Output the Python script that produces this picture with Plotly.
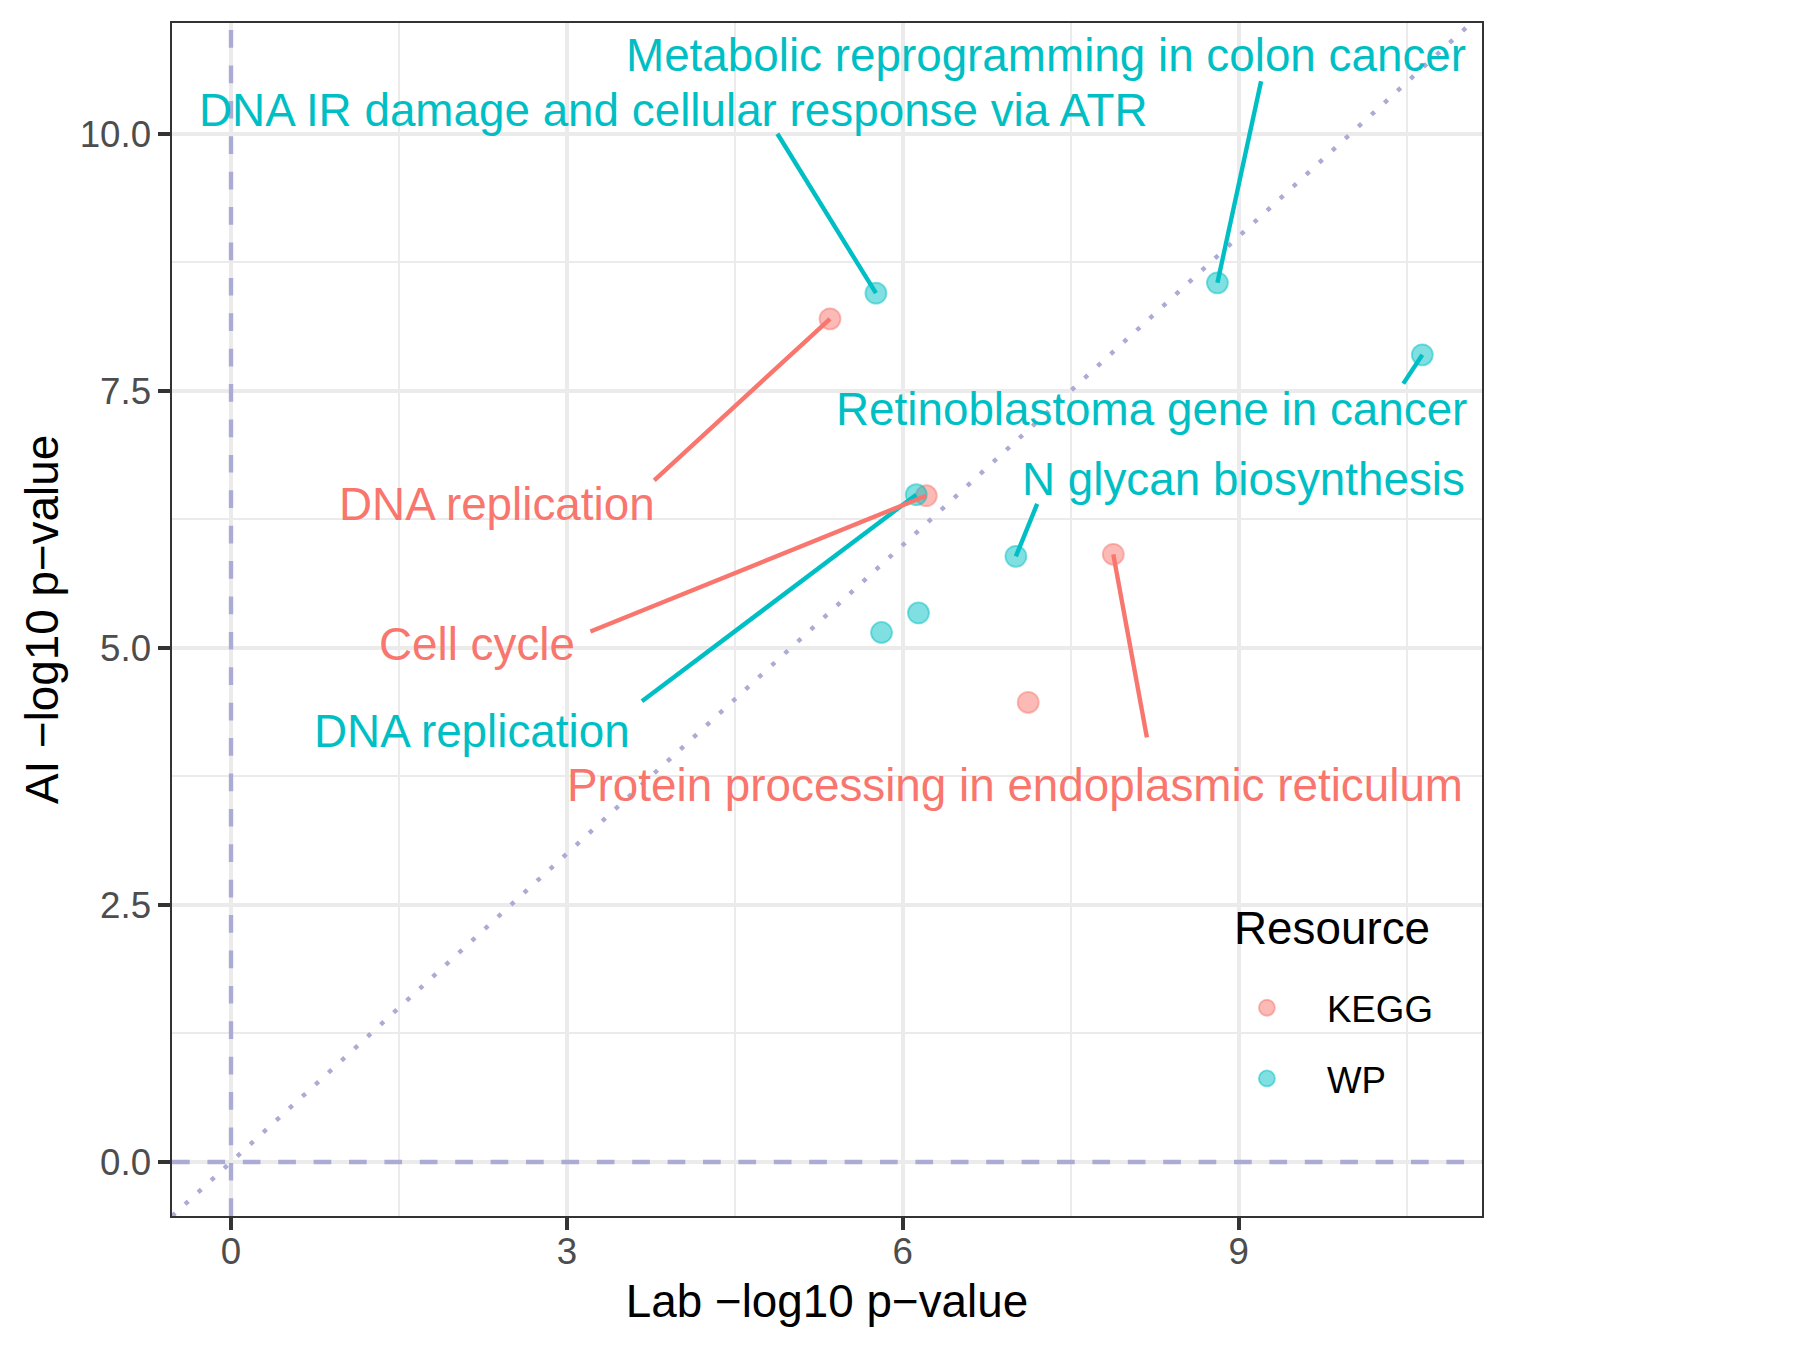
import plotly.graph_objects as go

# ---------------- data ----------------
resource = ["WP", "KEGG", "WP", "WP", "WP", "KEGG", "WP", "KEGG", "WP", "WP", "KEGG"]
pathway = [
    "DNA IR damage and cellular response via ATR",
    "DNA replication",
    "Metabolic reprogramming in colon cancer",
    "Retinoblastoma gene in cancer",
    "DNA replication",
    "Cell cycle",
    "N glycan biosynthesis",
    "Protein processing in endoplasmic reticulum",
    "",
    "",
    "",
]
lab_logp = [5.76, 5.35, 8.81, 10.64, 6.12, 6.21, 7.01, 7.88, 6.14, 5.81, 7.12]
ai_logp = [8.45, 8.20, 8.55, 7.85, 6.49, 6.48, 5.89, 5.91, 5.34, 5.15, 4.47]

resources = ["KEGG", "WP"]
x_ticks = [0, 3, 6, 9]
y_ticks = [0.0, 2.5, 5.0, 7.5, 10.0]
y_tick_text = ["0.0", "2.5", "5.0", "7.5", "10.0"]

# ---------------- layout / style ----------------
COLORS = {"KEGG": "#F8766D", "WP": "#00BFC4"}
FILL = {"KEGG": "rgba(248,118,109,0.5)", "WP": "rgba(0,191,196,0.5)"}
REF = "rgb(171,171,212)"
FONT = "Liberation Sans, Arial, Helvetica, sans-serif"
X_RANGE = [-0.527, 11.173]
Y_RANGE = [-0.525, 11.077]

# repelled label placement: (text centre x, y, segment start x, y), by point index
label_layout = {
    0: (3.95, 10.23, 4.88, 10.00),
    1: (2.38, 6.39, 3.78, 6.63),
    2: (7.28, 10.76, 9.20, 10.51),
    3: (8.22, 7.32, 10.47, 7.57),
    4: (2.15, 4.19, 3.67, 4.48),
    5: (2.20, 5.03, 3.21, 5.16),
    6: (9.04, 6.64, 7.20, 6.40),
    7: (7.00, 3.66, 8.18, 4.13),
}

fig = go.Figure()

# reference lines (drawn under the points)
fig.add_trace(go.Scatter(x=X_RANGE, y=[0, 0], mode="lines", showlegend=False, hoverinfo="skip",
                         line=dict(color=REF, width=4.4, dash="17.7px,17.7px")))
fig.add_trace(go.Scatter(x=[0, 0], y=Y_RANGE, mode="lines", showlegend=False, hoverinfo="skip",
                         line=dict(color=REF, width=4.4, dash="17.7px,17.7px")))
lo = min(X_RANGE[0], Y_RANGE[0])
hi = max(X_RANGE[1], Y_RANGE[1])
fig.add_trace(go.Scatter(x=[lo, hi], y=[lo, hi], mode="lines", showlegend=False, hoverinfo="skip",
                         line=dict(color=REF, width=4.4, dash="4.4px,13.3px")))

# points
for res in resources:
    idx = [i for i, r in enumerate(resource) if r == res]
    fig.add_trace(go.Scatter(
        x=[lab_logp[i] for i in idx],
        y=[ai_logp[i] for i in idx],
        mode="markers",
        name=res,
        legendgroup=res,
        text=[pathway[i] for i in idx],
        marker=dict(size=21, color=FILL[res], line=dict(color=FILL[res], width=1.8)),
    ))

# label segments (from label to the point)
for i, (tx, ty, sx, sy) in label_layout.items():
    fig.add_trace(go.Scatter(
        x=[sx, lab_logp[i]], y=[sy, ai_logp[i]], mode="lines", showlegend=False,
        hoverinfo="skip", line=dict(color=COLORS[resource[i]], width=4.4),
    ))

# labels
for i, (tx, ty, sx, sy) in label_layout.items():
    fig.add_annotation(x=tx, y=ty, xref="x", yref="y", text=pathway[i], showarrow=False,
                       xanchor="center", yanchor="middle",
                       font=dict(family=FONT, size=45.8, color=COLORS[resource[i]]))

# legend box and title (items come from the real legend)
fig.add_shape(type="rect", xref="paper", yref="paper", x0=0.790, x1=0.981, y0=0.0662, y1=0.2816,
              fillcolor="white", line=dict(width=0), layer="between")
fig.add_annotation(x=0.809, y=0.2414, xref="paper", yref="paper", text="Resource", showarrow=False,
                   xanchor="left", yanchor="middle",
                   font=dict(family=FONT, size=45.8, color="black"))

axis_common = dict(
    showgrid=True, gridcolor="#EBEBEB", gridwidth=4.4,
    zeroline=False,
    showline=True, mirror=True, linecolor="#333333", linewidth=2.2,
    ticks="outside", ticklen=11.5, tickwidth=4.4, tickcolor="#333333",
    tickfont=dict(family=FONT, size=36.7, color="#4D4D4D"),
    automargin=False,
)

fig.update_xaxes(
    range=X_RANGE, tickmode="array", tickvals=x_ticks, ticktext=[str(t) for t in x_ticks],
    minor=dict(showgrid=True, gridcolor="#EBEBEB", gridwidth=2.2, tick0=1.5, dtick=3, ticks=""),
    title=dict(text="Lab \u2212log10 p\u2212value", font=dict(family=FONT, size=45.8, color="black"), standoff=14),
    ticklabelstandoff=-10,
    **axis_common,
)
fig.update_yaxes(
    range=Y_RANGE, tickmode="array", tickvals=y_ticks, ticktext=y_tick_text,
    minor=dict(showgrid=True, gridcolor="#EBEBEB", gridwidth=2.2, tick0=1.25, dtick=2.5, ticks=""),
    title=dict(text="\u00a0\u00a0\u2009AI \u2212log10 p\u2212value",
               font=dict(family=FONT, size=45.8, color="black"), standoff=7),
    ticklabelstandoff=0,
    **axis_common,
)

fig.update_layout(
    width=1800, height=1350,
    margin=dict(l=164, r=326, t=15, b=142),
    paper_bgcolor="white", plot_bgcolor="white",
    font=dict(family=FONT),
    showlegend=True,
    legend=dict(
        x=0.790, y=0.200, xanchor="left", yanchor="top",
        bgcolor="rgba(0,0,0,0)", borderwidth=0,
        font=dict(family=FONT, size=36.7, color="black"),
        tracegroupgap=20, itemwidth=110,
    ),
)

fig.write_html("out.html")
